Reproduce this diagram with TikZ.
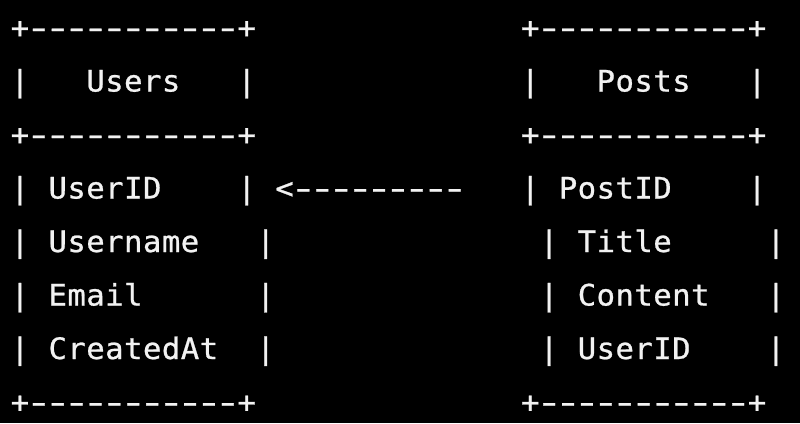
\documentclass[tikz,border=0pt]{standalone}
\usepackage{fontspec}
\usepackage{graphicx}
\newfontfamily\asciimono[FakeStretch=1.04,FakeBold=0.8]{DejaVu Sans Mono}
\ExplSyntaxOn
\cs_new:Nn \asc_char:n
  {
    \str_if_eq:nnTF {#1} {-}
      { \makebox[18.9pt][c]{\scalebox{1.5}[1]{-}} }
      { \makebox[18.9pt][c]{#1} }
  }
\NewDocumentCommand \asc { m } { \tl_map_inline:nn {#1} { \asc_char:n {##1} } }
\ExplSyntaxOff
\definecolor{inktext}{RGB}{242,242,242}
\begin{document}
\begin{tikzpicture}[x=1pt,y=-1pt,
  txt/.style={text=inktext,inner sep=0pt,outer sep=0pt,anchor=base west,
    font=\asciimono\fontsize{29.5}{29.5}\selectfont}]
\fill[black] (0,0) rectangle (800,423);
\useasboundingbox (0,0) rectangle (800,423);
\newcommand{\cell}[4]{\node[txt] (#1) at ({10.5+18.9*#2},{38+53.5*#3}) {\asc{#4}};}
% Users box
\cell{ut}{0}{0}{+-----------+}
\cell{ul1}{0}{1}{|}\cell{uh}{4}{1}{Users}\cell{ur1}{12}{1}{|}
\cell{um}{0}{2}{+-----------+}
\cell{ul3}{0}{3}{|}\cell{ua}{2}{3}{UserID}\cell{ur3}{12}{3}{|}
\cell{ul4}{0}{4}{|}\cell{ub}{2}{4}{Username}\cell{ur4}{13}{4}{|}
\cell{ul5}{0}{5}{|}\cell{uc}{2}{5}{Email}\cell{ur5}{13}{5}{|}
\cell{ul6}{0}{6}{|}\cell{ud}{2}{6}{CreatedAt}\cell{ur6}{13}{6}{|}
\cell{ub7}{0}{7}{+-----------+}
% arrow
\cell{arr}{14}{3}{<---------}
% Posts box
\cell{pt}{27}{0}{+-----------+}
\cell{pl1}{27}{1}{|}\cell{ph}{31}{1}{Posts}\cell{pr1}{39}{1}{|}
\cell{pm}{27}{2}{+-----------+}
\cell{pl3}{27}{3}{|}\cell{pa}{29}{3}{PostID}\cell{pr3}{39}{3}{|}
\cell{pl4}{28}{4}{|}\cell{pb}{30}{4}{Title}\cell{pr4}{40}{4}{|}
\cell{pl5}{28}{5}{|}\cell{pc}{30}{5}{Content}\cell{pr5}{40}{5}{|}
\cell{pl6}{28}{6}{|}\cell{pd}{30}{6}{UserID}\cell{pr6}{40}{6}{|}
\cell{pb7}{27}{7}{+-----------+}
\end{tikzpicture}
\end{document}
